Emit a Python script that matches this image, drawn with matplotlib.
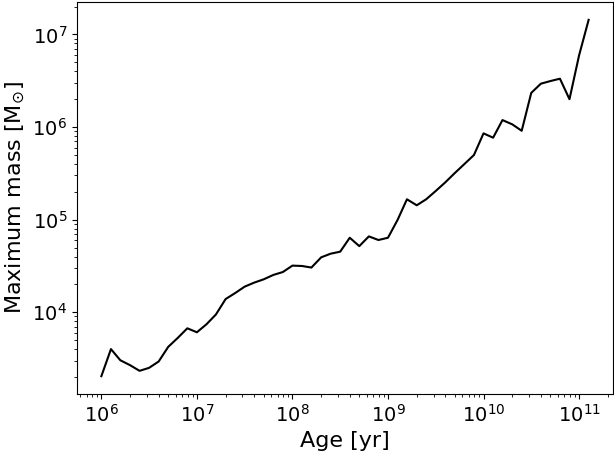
import numpy as np
import matplotlib
matplotlib.use("Agg")
import matplotlib.pyplot as plt

# log10(age) grid, 0.1 dex steps from 1e6 to ~1.26e11 yr
age = [1.00e6, 1.26e6, 1.58e6, 2.00e6, 2.51e6, 3.16e6, 3.98e6, 5.01e6, 6.31e6, 7.94e6,
       1.00e7, 1.26e7, 1.58e7, 2.00e7, 2.51e7, 3.16e7, 3.98e7, 5.01e7, 6.31e7, 7.94e7,
       1.00e8, 1.26e8, 1.58e8, 2.00e8, 2.51e8, 3.16e8, 3.98e8, 5.01e8, 6.31e8, 7.94e8,
       1.00e9, 1.26e9, 1.58e9, 2.00e9, 2.51e9, 3.16e9, 3.98e9, 5.01e9, 6.31e9, 7.94e9,
       1.00e10, 1.26e10, 1.58e10, 2.00e10, 2.51e10, 3.16e10, 3.98e10, 5.01e10, 6.31e10, 7.94e10,
       1.00e11, 1.26e11]
max_mass = [2040, 4000, 3030, 2680, 2330, 2510, 2940, 4230, 5290, 6710,
            6080, 7420, 9450, 13900, 16100, 18900, 20900, 22700, 25300, 27200,
            31900, 31600, 30400, 39200, 42900, 45100, 63800, 51800, 66000, 60300,
            63800, 99300, 166000, 143000, 166000, 204000, 253000, 319000, 399000, 499000,
            855000, 768000, 1.19e6, 1.07e6, 9.12e5, 2.34e6, 2.94e6, 3.14e6, 3.33e6, 2.0e6,
            5.93e6, 1.44e7]

fig = plt.figure(figsize=(6.14, 4.54), dpi=100)
ax = fig.add_subplot(1, 1, 1)
plt.subplots_adjust(left=77/614, right=613/614, top=1-2/454, bottom=1-394/454)

ax.plot(age, max_mass, color='black', lw=1.5)
ax.set_xscale('log')
ax.set_yscale('log')
ax.tick_params(labelsize=14)
ax.set_xlabel('Age [yr]', fontsize=16)
ax.set_ylabel(r'Maximum mass [$\mathrm{M}_{\odot}$]', fontsize=16)

fig.savefig('out.png', dpi=100)
